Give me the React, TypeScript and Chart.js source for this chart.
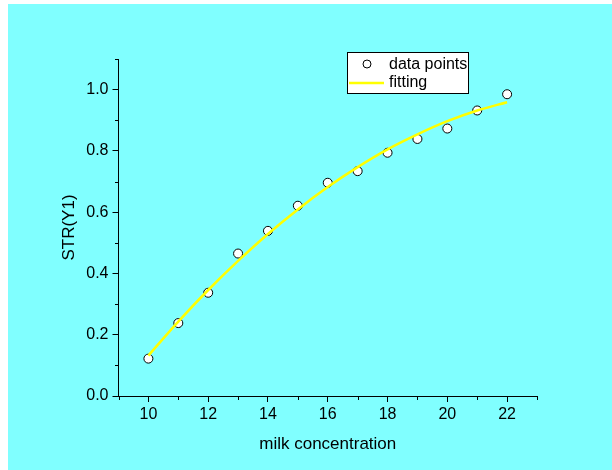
import React, { useEffect, useRef } from "react";
import { Chart, registerables } from "chart.js";

Chart.register(...registerables);

// Milk concentration (x) against STR(Y1)
const concentration = [10, 11, 12, 13, 14, 15, 16, 17, 18, 19, 20, 21, 22];
const strValues = [0.122, 0.238, 0.337, 0.465, 0.539, 0.621, 0.696, 0.734, 0.794, 0.839, 0.873, 0.932, 0.985];
// Fitted curve sampled at each concentration
const fitValues = [0.132, 0.243, 0.346, 0.441, 0.529, 0.609, 0.682, 0.747, 0.805, 0.854, 0.897, 0.932, 0.959];

const xTitle = "milk concentration";
const yTitle = "STR(Y1)";
const legendLabels = ["data points", "fitting"];

const FONT = "'Liberation Sans', Arial, sans-serif";
const BG = "#80FFFF";
const FIT_COLOR = "#FFFF00";

const isMajorX = (v: number) => Math.round(v) % 2 === 0;
const isMajorY = (v: number) => Math.round(v * 10) % 2 === 0;

// Short minor ticks plus the boxed legend
const decorations = {
  id: "decorations",
  afterDraw(chart: any) {
    const { ctx, scales } = chart;
    const xs = scales.x;
    const ys = scales.y;
    ctx.save();
    ctx.strokeStyle = "#000";
    ctx.lineWidth = 1;
    ctx.beginPath();
    xs.ticks.forEach((t: any) => {
      if (!isMajorX(t.value)) {
        const px = Math.round(xs.getPixelForValue(t.value)) + 0.5;
        ctx.moveTo(px, ys.bottom);
        ctx.lineTo(px, ys.bottom + 4);
      }
    });
    ys.ticks.forEach((t: any) => {
      if (!isMajorY(t.value)) {
        const py = Math.round(ys.getPixelForValue(t.value)) + 0.5;
        ctx.moveTo(xs.left, py);
        ctx.lineTo(xs.left - 3.5, py);
      }
    });
    ctx.stroke();

    // legend box
    const bx = 339.5, by = 48.5, bw = 121, bh = 41;
    ctx.fillStyle = "#fff";
    ctx.fillRect(bx, by, bw, bh);
    ctx.strokeStyle = "#000";
    ctx.strokeRect(bx, by, bw, bh);

    ctx.beginPath();
    ctx.arc(359, 60, 4, 0, Math.PI * 2);
    ctx.fillStyle = "#fff";
    ctx.fill();
    ctx.lineWidth = 1;
    ctx.strokeStyle = "#000";
    ctx.stroke();

    ctx.beginPath();
    ctx.moveTo(341, 79);
    ctx.lineTo(376, 79);
    ctx.strokeStyle = FIT_COLOR;
    ctx.lineWidth = 2.5;
    ctx.stroke();

    ctx.fillStyle = "#000";
    ctx.font = `16px ${FONT}`;
    ctx.textBaseline = "middle";
    ctx.textAlign = "left";
    ctx.fillText(legendLabels[0], 381, 61);
    ctx.fillText(legendLabels[1], 381, 79);
    ctx.restore();
  },
};

export default function App() {
  const canvasRef = useRef<HTMLCanvasElement | null>(null);

  useEffect(() => {
    if (!canvasRef.current) return;
    const chart = new Chart(canvasRef.current, {
      type: "scatter",
      data: {
        datasets: [
          {
            label: legendLabels[1],
            type: "line",
            data: concentration.map((x, i) => ({ x, y: fitValues[i] })),
            borderColor: FIT_COLOR,
            borderWidth: 2.5,
            pointRadius: 0,
            fill: false,
            tension: 0.4,
            cubicInterpolationMode: "monotone",
          },
          {
            label: legendLabels[0],
            data: concentration.map((x, i) => ({ x, y: strValues[i] })),
            backgroundColor: "#fff",
            borderColor: "#000",
            borderWidth: 1,
            pointRadius: 4.5,
            showLine: false,
          },
        ],
      },
      options: {
        animation: false,
        responsive: false,
        layout: { padding: { left: 0, right: 75, top: 55, bottom: 0 } },
        plugins: {
          legend: { display: false },
          tooltip: { enabled: false },
        },
        scales: {
          x: {
            type: "linear",
            min: 9,
            max: 23,
            afterFit: (s: any) => {
              s.height = 74;
            },
            ticks: {
              stepSize: 1,
              color: "#000",
              font: { family: FONT, size: 16 },
              padding: 3,
              maxRotation: 0,
              autoSkip: false,
              callback: (v: any) => (isMajorX(Number(v)) ? String(v) : ""),
            },
            grid: {
              display: true,
              drawOnChartArea: false,
              drawTicks: true,
              tickLength: 6,
              tickColor: (c: any) => (c.tick && isMajorX(c.tick.value) ? "#000" : "rgba(0,0,0,0)"),
            },
            border: { display: true, color: "#000", width: 1 },
            title: {
              display: true,
              text: xTitle,
              color: "#000",
              font: { family: FONT, size: 17 },
              padding: { top: 0, bottom: 15 },
            },
          },
          y: {
            type: "linear",
            min: 0,
            max: 1.1,
            afterFit: (s: any) => {
              s.width = 110.5;
            },
            ticks: {
              stepSize: 0.1,
              color: "#000",
              font: { family: FONT, size: 16 },
              padding: 4,
              autoSkip: false,
              callback: (v: any) => (isMajorY(Number(v)) ? Number(v).toFixed(1) : ""),
            },
            grid: {
              display: true,
              drawOnChartArea: false,
              drawTicks: true,
              tickLength: 6,
              tickColor: (c: any) => (c.tick && isMajorY(c.tick.value) ? "#000" : "rgba(0,0,0,0)"),
            },
            border: { display: true, color: "#000", width: 1 },
            title: {
              display: true,
              text: yTitle,
              color: "#000",
              font: { family: FONT, size: 17 },
              padding: { top: 51, bottom: 0 },
            },
          },
        },
      },
      plugins: [decorations],
    });
    return () => chart.destroy();
  }, []);

  return (
    <div
      style={{
        position: "fixed",
        left: 8,
        top: 4,
        width: 604,
        height: 466,
        background: BG,
      }}
    >
      <canvas ref={canvasRef} width={604} height={466} style={{ display: "block" }} />
    </div>
  );
}
